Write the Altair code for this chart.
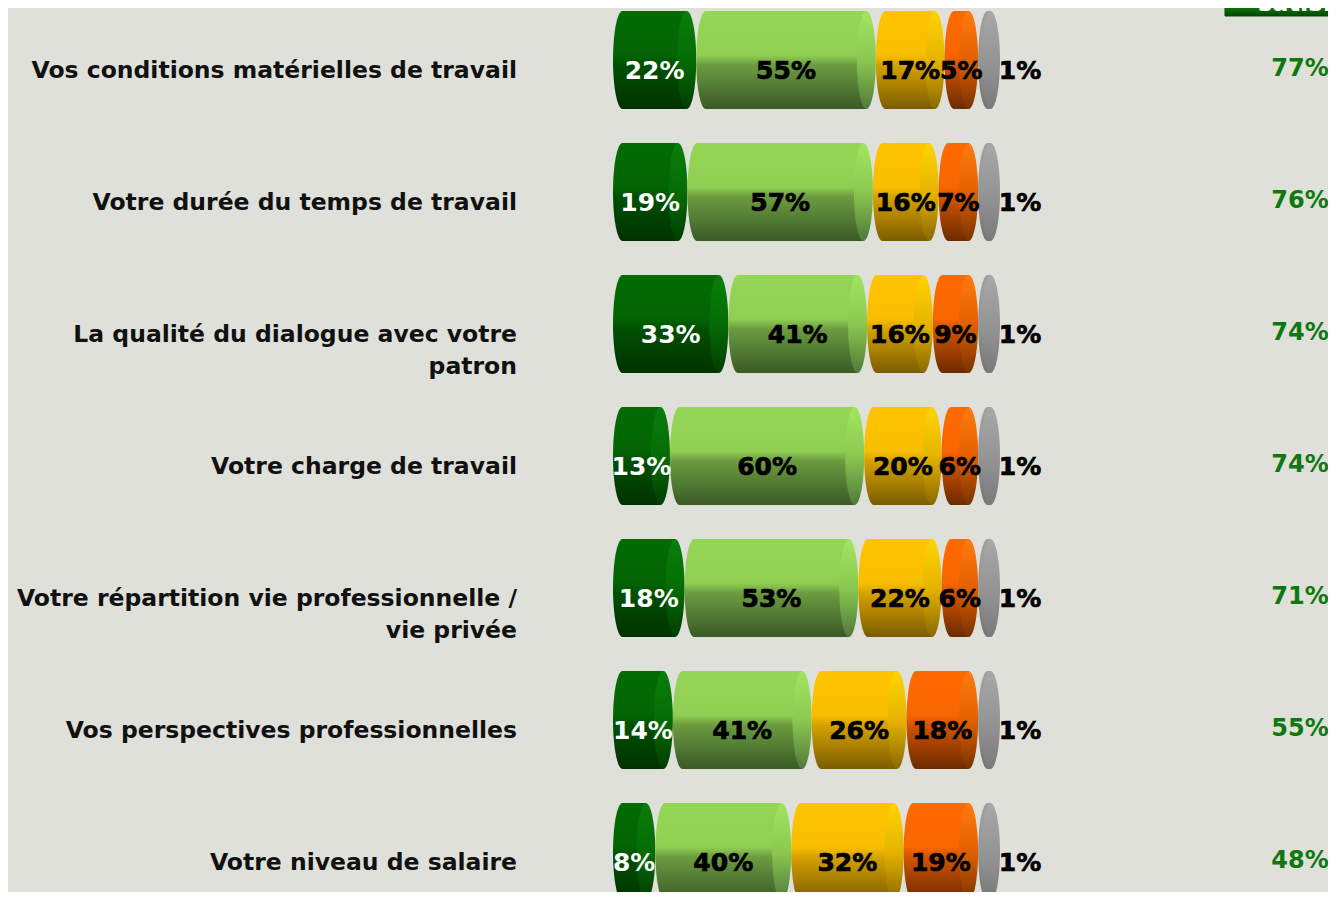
import altair as alt
import pandas as pd

# ---------------- data ----------------
categories = [
    "Vos conditions matérielles de travail",
    "Votre durée du temps de travail",
    "La qualité du dialogue avec votre|patron",
    "Votre charge de travail",
    "Votre répartition vie professionnelle /|vie privée",
    "Vos perspectives professionnelles",
    "Votre niveau de salaire",
]
series = ["Très satisfait", "Plutôt satisfait", "Plutôt pas satisfait",
          "Pas du tout satisfait", "NSP"]
tres_satisfait = [22, 19, 33, 13, 18, 14, 8]
plutot_satisfait = [55, 57, 41, 60, 53, 41, 40]
plutot_pas = [17, 16, 16, 20, 22, 26, 32]
pas_du_tout = [5, 7, 9, 6, 6, 18, 19]
nsp = [1, 1, 1, 1, 1, 1, 1]
satisfaits = [77, 76, 74, 74, 71, 55, 48]
header = "satisfaits"

values_by_series = [tres_satisfait, plutot_satisfait, plutot_pas, pas_du_tout, nsp]

rows = []
for i, cat in enumerate(categories):
    acc = 0
    for s, vals in zip(series, values_by_series):
        v = vals[i]
        rows.append(dict(category=cat, row=i, series=s, value=v,
                         start=acc, end=acc + v, mid=acc + v / 2,
                         label=f"{v}%"))
        acc += v
df = pd.DataFrame(rows)
cat_df = pd.DataFrame(dict(category=categories, row=list(range(len(categories))),
                           sat=[f"{v}%" for v in satisfaits]))
head_df = pd.DataFrame(dict(text=[header]))

# ---------------- layout ----------------
W, H = 1320, 884
PX = 2.92            # pixels per percent
C = 19               # 3-D cylinder cap depth added per segment (px)
R = C / 2            # ellipse half-width
X0 = 605             # pixel of 0 %
XMIN, XMAX = -X0 / PX, (W - X0) / PX
ROW0, STEP = 52, 132
YMIN, YMAX = -ROW0 / STEP, (H - ROW0) / STEP

xs = alt.Scale(domain=[XMIN, XMAX], nice=False, zero=False, padding=0)
ys = alt.Scale(domain=[YMIN, YMAX], nice=False, zero=False, reverse=True, padding=0)

BAR_H = 98
a = R / (BAR_H / 2)
k = 0.5523
ELLIPSE = (f"M0,-1 C{k*a:.4f},-1 {a:.4f},{-k:.4f} {a:.4f},0 "
           f"C{a:.4f},{k:.4f} {k*a:.4f},1 0,1 "
           f"C{-k*a:.4f},1 {-a:.4f},{k:.4f} {-a:.4f},0 "
           f"C{-a:.4f},{-k:.4f} {-k*a:.4f},-1 0,-1 Z")
SYM_SIZE = BAR_H ** 2


def vgrad(stops):
    return alt.LinearGradient(
        gradient="linear",
        stops=[alt.GradientStop(offset=o, color=c) for o, c in stops],
        x1=0, x2=0, y1=0, y2=1)


body_grad = {
    "Très satisfait": vgrad([(0, "#036c03"), (0.45, "#036403"), (0.55, "#005000"), (1, "#003200")]),
    "Plutôt satisfait": vgrad([(0, "#94d656"), (0.45, "#90cf52"), (0.55, "#6c9c40"), (0.85, "#4a7030"), (1, "#3a5a24")]),
    "Plutôt pas satisfait": vgrad([(0, "#ffc400"), (0.45, "#f8be00"), (0.55, "#d6a200"), (0.85, "#9a7400"), (1, "#7a5c00")]),
    "Pas du tout satisfait": vgrad([(0, "#ff6a00"), (0.45, "#f86600"), (0.55, "#d25400"), (0.85, "#8e3800"), (1, "#6e2a00")]),
    "NSP": vgrad([(0, "#a0a0a0"), (0.5, "#969696"), (1, "#727272")]),
}
cap_grad = {
    "Très satisfait": vgrad([(0, "#0a7e0a"), (0.5, "#056c05"), (1, "#003e00")]),
    "Plutôt satisfait": vgrad([(0, "#a0e660"), (0.5, "#8cc850"), (1, "#50793a")]),
    "Plutôt pas satisfait": vgrad([(0, "#ffd400"), (0.5, "#e6b400"), (1, "#8a6800")]),
    "Pas du tout satisfait": vgrad([(0, "#ff7a10"), (0.5, "#e26000"), (1, "#7a3200")]),
    "NSP": vgrad([(0, "#a8a8a8"), (0.5, "#959595"), (1, "#7a7a7a")]),
}

X_START = alt.X("start:Q", scale=xs, axis=None)
X_END = alt.X("end:Q", scale=xs, axis=None)
X_MID = alt.X("mid:Q", scale=xs, axis=None)
Y_ROW = alt.Y("row:Q", scale=ys, axis=None)

base = alt.Chart(df)
layers = []
texts = []
for i, s in enumerate(series):
    sel = base.transform_filter(alt.datum.series == s)
    left_cap = sel.mark_point(shape=ELLIPSE, size=SYM_SIZE, filled=True,
                              fill=body_grad[s], strokeWidth=0, opacity=1,
                              xOffset=i * C + R).encode(x=X_START, y=Y_ROW)
    body = sel.mark_bar(size=BAR_H, fill=body_grad[s],
                        xOffset=i * C + R, x2Offset=(i + 1) * C - R).encode(
        x=X_START, x2="end:Q", y=Y_ROW)
    right_cap = sel.mark_point(shape=ELLIPSE, size=SYM_SIZE, filled=True,
                               fill=cap_grad[s], strokeWidth=0, opacity=1,
                               xOffset=(i + 1) * C - R).encode(x=X_END, y=Y_ROW)
    layers += [left_cap, body, right_cap]

    lbl_style = dict(font="DejaVu Sans", fontWeight="bold", fontSize=25,
                     baseline="middle", dy=11)
    if i == len(series) - 1:
        texts.append(sel.mark_text(color="#000000", stroke="#000000", strokeWidth=0.7,
                                   dx=(i + 1) * C + 20, **lbl_style).encode(
            x=X_END, y=Y_ROW, text="label:N"))
    elif i == 0:
        texts.append(sel.mark_text(color="#ffffff", dx=i * C + C / 2, **lbl_style).encode(
            x=X_MID, y=Y_ROW, text="label:N"))
    else:
        texts.append(sel.mark_text(color="#000000", stroke="#000000", strokeWidth=0.7,
                                   dx=i * C + C / 2, **lbl_style).encode(
            x=X_MID, y=Y_ROW, text="label:N"))

cats = alt.Chart(cat_df).transform_calculate(lines="split(datum.category, '|')")
left_text = cats.mark_text(align="right", baseline="middle", font="DejaVu Sans",
                           fontWeight="bold", fontSize=23.5, color="#111111",
                           lineHeight=32, dy=11).encode(
    x=alt.X(datum=(509 - X0) / PX, scale=xs, axis=None),
    y=Y_ROW, text="lines:N")
right_text = cats.mark_text(align="center", baseline="middle", font="DejaVu Sans",
                            fontWeight="bold", fontSize=24, color="#0f780f", dy=9).encode(
    x=alt.X(datum=(1292 - X0) / PX, scale=xs, axis=None),
    y=Y_ROW, text="sat:N")

head_box = alt.Chart(head_df).mark_rect(
    fill=vgrad([(0, "#0c800c"), (0.7, "#0a6e0a"), (1, "#004400")]),
    stroke="#0a4a0a", strokeWidth=1).encode(
    x=alt.X(datum=(1217 - X0) / PX, scale=xs, axis=None),
    x2=alt.X2(datum=XMAX + 5),
    y=alt.Y(datum=YMIN - 0.1, scale=ys, axis=None),
    y2=alt.Y2(datum=(8 - ROW0) / STEP))
head_text = alt.Chart(head_df).mark_text(
    align="left", baseline="alphabetic", font="DejaVu Sans", fontWeight="bold",
    fontSize=24, color="#ffffff").encode(
    x=alt.X(datum=(1250 - X0) / PX, scale=xs, axis=None),
    y=alt.Y(datum=(3 - ROW0) / STEP, scale=ys, axis=None),
    text="text:N")

chart = alt.layer(*layers, *texts, left_text, right_text,
                  head_box, head_text).properties(
    width=W, height=H, padding=0,
    autosize=alt.AutoSizeParams(type="none"),
    background="#dfe0da",
).configure_view(strokeWidth=0)

chart.save("out.html", embed_options={"renderer": "svg", "actions": False})
